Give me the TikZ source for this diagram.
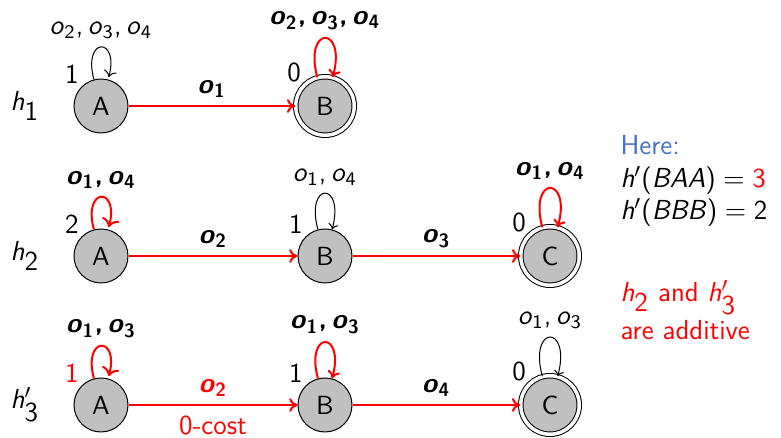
\documentclass[tikz,border=0pt]{standalone}
\usetikzlibrary{arrows.meta}

\definecolor{stategray}{RGB}{192,192,192}
\definecolor{herblue}{RGB}{68,114,196}
\definecolor{hotred}{RGB}{255,0,0}

% operator symbol o_i and heuristic symbol h_i in sans italic
\newcommand\ob[1]{\textit{o}\textsubscript{#1}}
\newcommand\cm{,\,}
\newcommand\hh[1]{\textit{h}$_{\textsf{#1}}$}
\newcommand\hp[1]{\textit{h}$'_{\textsf{#1}}$}

\tikzset{
  stnode/.style={circle, draw=black, line width=0.4pt, fill=stategray,
    minimum size=21.6pt, inner sep=0pt, font=\sffamily\fontsize{10.5}{12}\selectfont},
  accnode/.style={stnode, minimum size=23.4pt, double=white, double distance=1.4pt},
  val/.style={label={[inner sep=1pt]135:#1}},
  redval/.style={label={[inner sep=1pt, text=hotred]135:#1}},
  redge/.style={draw=hotred, line width=0.8pt, -{To[length=3.3pt,width=5.5pt]}},
  thinloop/.style={draw=black, line width=0.4pt, -{To[length=2.2pt,width=4pt]}},
  redloop/.style={draw=hotred, line width=0.8pt, -{To[length=3pt,width=5pt]}},
  lab/.style={inner sep=3pt, text=black},
  blab/.style={lab, font=\sffamily\bfseries\fontsize{11}{13}\selectfont},
}

\begin{document}
\begin{tikzpicture}[x=0.4pt, y=-0.4pt, font=\sffamily\fontsize{11}{13}\selectfont]
  \useasboundingbox (0,0) rectangle (781,438);

  % row labels
  \node (r1) at (25,106) {\hh{1}};
  \node (r2) at (25,256) {\hh{2}};
  \node (r3) at (25,405) {\hp{3}};

  % states of h1
  \node[stnode, val=1]  (a1) at (101,106) {A};
  \node[accnode, val=0] (b1) at (325,106) {B};

  % states of h2
  \node[stnode, val=2]  (a2) at (101,256) {A};
  \node[stnode, val=1]  (b2) at (325,256) {B};
  \node[accnode, val=0] (c2) at (550,256) {C};

  % states of h3'
  \node[stnode, redval=1] (a3) at (101,405) {A};
  \node[stnode, val=1]    (b3) at (325,405) {B};
  \node[accnode, val=0]   (c3) at (550,405) {C};

  % transitions of h1
  \path[thinloop] (a1) edge[loop above] node[above, lab] {\ob{2}\cm\ob{3}\cm\ob{4}} (a1);
  \path[redloop]  (b1) edge[loop above, looseness=9] node[above, blab] {\ob{2}\cm\ob{3}\cm\ob{4}} (b1);
  \draw[redge] (a1) -- node[above, blab] {\ob{1}} (b1);

  % transitions of h2
  \path[redloop]  (a2) edge[loop above] node[above, blab] {\ob{1}\cm\ob{4}} (a2);
  \path[thinloop] (b2) edge[loop above, looseness=9] node[above, lab] {\ob{1}\cm\ob{4}} (b2);
  \path[redloop]  (c2) edge[loop above, looseness=9] node[above, blab] {\ob{1}\cm\ob{4}} (c2);
  \draw[redge] (a2) -- node[above, blab] {\ob{2}} (b2);
  \draw[redge] (b2) -- node[above, blab] {\ob{3}} (c2);

  % transitions of h3'
  \path[redloop]  (a3) edge[loop above] node[above, blab] {\ob{1}\cm\ob{3}} (a3);
  \path[redloop]  (b3) edge[loop above, looseness=9] node[above, blab] {\ob{1}\cm\ob{3}} (b3);
  \path[thinloop] (c3) edge[loop above, looseness=9] node[above, lab] {\ob{1}\cm\ob{3}} (c3);
  \draw[redge] (a3) -- node[above, blab, text=hotred] {\ob{2}}
                       node[below, lab, text=hotred, inner sep=4pt] {0-cost} (b3);
  \draw[redge] (b3) -- node[above, blab] {\ob{4}} (c3);

  % side notes
  \node[anchor=west, inner sep=0pt, text=herblue] (here) at (620,145) {Here:};
  \node[anchor=west, inner sep=0pt] (baa) at (620,180)
    {\textit{h}$'$(\textit{BAA})${}={}$\textcolor{hotred}{3}};
  \node[anchor=west, inner sep=0pt] (bbb) at (620,212)
    {\textit{h}$'$(\textit{BBB})${}={}$2};
  \node[anchor=west, inner sep=0pt, text=hotred] (add1) at (620,298)
    {\hh{2} and \hp{3}};
  \node[anchor=west, inner sep=0pt, text=hotred] (add2) at (620,330)
    {are additive};
\end{tikzpicture}
\end{document}
